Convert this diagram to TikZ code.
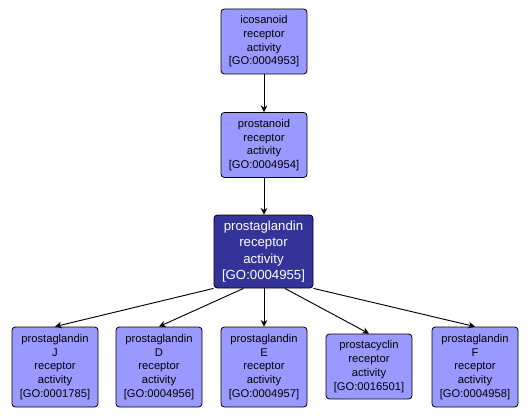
\documentclass[tikz,border=0pt]{standalone}
\usepackage{fontspec}
\setmainfont{Liberation Sans}
\usetikzlibrary{arrows.meta}
\definecolor{TermBlue}{RGB}{153,153,255}
\definecolor{SelBlue}{RGB}{51,51,153}

\begin{document}
\begin{tikzpicture}[x=0.75pt,y=-0.75pt,
  n/.style={rectangle,draw=black,line width=0.6pt,rounded corners=2.5pt,fill=TermBlue,font=\fontsize{8.4}{10.3}\selectfont,align=center,minimum width=64.5pt,inner sep=1pt},
  sel/.style={n,fill=SelBlue,text=white,font=\fontsize{9.9}{12.2}\selectfont,minimum width=74.25pt,minimum height=54.75pt},
  e/.style={-{Stealth[length=5pt,width=5pt]},line width=0.7pt}
]
  \useasboundingbox (0,0) rectangle (530,416);
  \node[n,minimum height=48.75pt] (ico) at (264,41.5) {icosanoid\\receptor\\activity\\{[GO:0004953]}};
  \node[n,minimum height=48.75pt] (pro) at (264,145) {prostanoid\\receptor\\activity\\{[GO:0004954]}};
  \node[sel] (pg) at (263.5,251.5) {prostaglandin\\receptor\\activity\\{[GO:0004955]}};
  \node[n,minimum height=60pt] (pgj) at (55,367) {prostaglandin\\J\\receptor\\activity\\{[GO:0001785]}};
  \node[n,minimum height=60pt] (pgd) at (159,367) {prostaglandin\\D\\receptor\\activity\\{[GO:0004956]}};
  \node[n,minimum height=60pt] (pge) at (264,367) {prostaglandin\\E\\receptor\\activity\\{[GO:0004957]}};
  \node[n,minimum height=48.75pt] (pgi) at (369,366.5) {prostacyclin\\receptor\\activity\\{[GO:0016501]}};
  \node[n,minimum height=60pt] (pgf) at (475,367) {prostaglandin\\F\\receptor\\activity\\{[GO:0004958]}};
  \draw[e] (ico)--(pro);
  \draw[e] (pro.south)--(pro.south |- pg.north);
  \draw[e] ([xshift=-37.5pt]pg.south)--(pgj.north);
  \draw[e] ([xshift=-15pt]pg.south)--(pgd.north);
  \draw[e] (pge.north |- pg.south)--(pge.north);
  \draw[e] ([xshift=16pt]pg.south)--(pgi.north);
  \draw[e] ([xshift=37.5pt]pg.south)--(pgf.north);
\end{tikzpicture}
\end{document}
